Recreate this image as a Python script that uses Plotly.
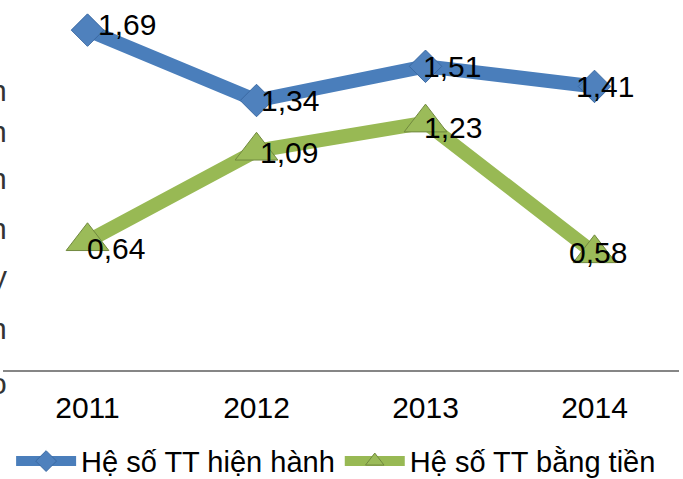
import plotly.graph_objects as go

years = ["2011", "2012", "2013", "2014"]
hs_hien_hanh = [1.69, 1.34, 1.51, 1.41]
hs_bang_tien = [0.64, 1.09, 1.23, 0.58]
name_hien_hanh = "Hệ số TT hiện hành"
name_bang_tien = "Hệ số TT bằng tiền"
fmt = lambda v: f"{v:.2f}".replace(".", ",")

# label offsets (pixels) for each data label, as placed in the picture
shift_hien_hanh = [(8, 6), (2, 0), (-5, 0), (-21, 0)]
shift_bang_tien = [(-3, -7), (1, -2), (-4, -5), (-28, 1)]

# clipped fragments of text at the left edge of the picture
edge_texts = ["n", "n", "n", "n", "y", "n", "o"]
edge_y = [0.773, 0.660, 0.530, 0.392, 0.257, 0.116, -0.036]

FONT = "Liberation Sans, Arial, sans-serif"
FS = 30
BLUE = "#4A7EBB"
GREEN = "#98B954"

fig = go.Figure()
fig.add_trace(go.Scatter(
    x=years, y=hs_hien_hanh, name=name_hien_hanh, mode="lines+markers",
    line=dict(color=BLUE, width=14),
    marker=dict(symbol="diamond", size=25, color="#4F81BD", line=dict(color="#3B6AA3", width=1)),
    cliponaxis=False,
))
fig.add_trace(go.Scatter(
    x=years, y=hs_bang_tien, name=name_bang_tien, mode="lines+markers",
    line=dict(color=GREEN, width=14),
    marker=dict(symbol="triangle-up", size=37, color="#9BBB59", line=dict(color="#71893F", width=1)),
    cliponaxis=False,
))

for vals, shifts in ((hs_hien_hanh, shift_hien_hanh), (hs_bang_tien, shift_bang_tien)):
    for i, (yv, (dx, dy)) in enumerate(zip(vals, shifts)):
        fig.add_annotation(text=fmt(yv), x=i, y=yv, xref="x", yref="y",
                           xanchor="left", yanchor="middle", showarrow=False,
                           xshift=dx, yshift=dy,
                           font=dict(family=FONT, size=FS, color="black"))

for t, yy in zip(edge_texts, edge_y):
    fig.add_annotation(text=t, xref="paper", yref="paper", x=0.0, y=yy,
                       xanchor="right", yanchor="middle", showarrow=False,
                       xshift=6, font=dict(family=FONT, size=FS, color="#333333"))

fig.update_layout(
    width=683, height=479,
    margin=dict(l=3, r=4, t=8, b=109, autoexpand=False),
    paper_bgcolor="white", plot_bgcolor="white",
    showlegend=True,
    legend=dict(orientation="h", x=0.012, y=-0.252, xanchor="left", yanchor="middle",
                font=dict(family=FONT, size=29, color="black"), itemwidth=60,
                bgcolor="rgba(0,0,0,0)"),
    font=dict(family=FONT, size=FS, color="black"),
)
fig.update_xaxes(type="category", range=[-0.5, 3.5], showgrid=False, zeroline=False,
                 showline=True, linecolor="#868686", linewidth=2, ticks="",
                 ticklabelstandoff=10, tickfont=dict(family=FONT, size=FS, color="black"))
fig.update_yaxes(range=[0, 1.8], showgrid=False, zeroline=False, showline=False,
                 showticklabels=False)

fig.write_html("out.html", config={"displayModeBar": False},
               post_script="document.body.style.margin='0px';")
